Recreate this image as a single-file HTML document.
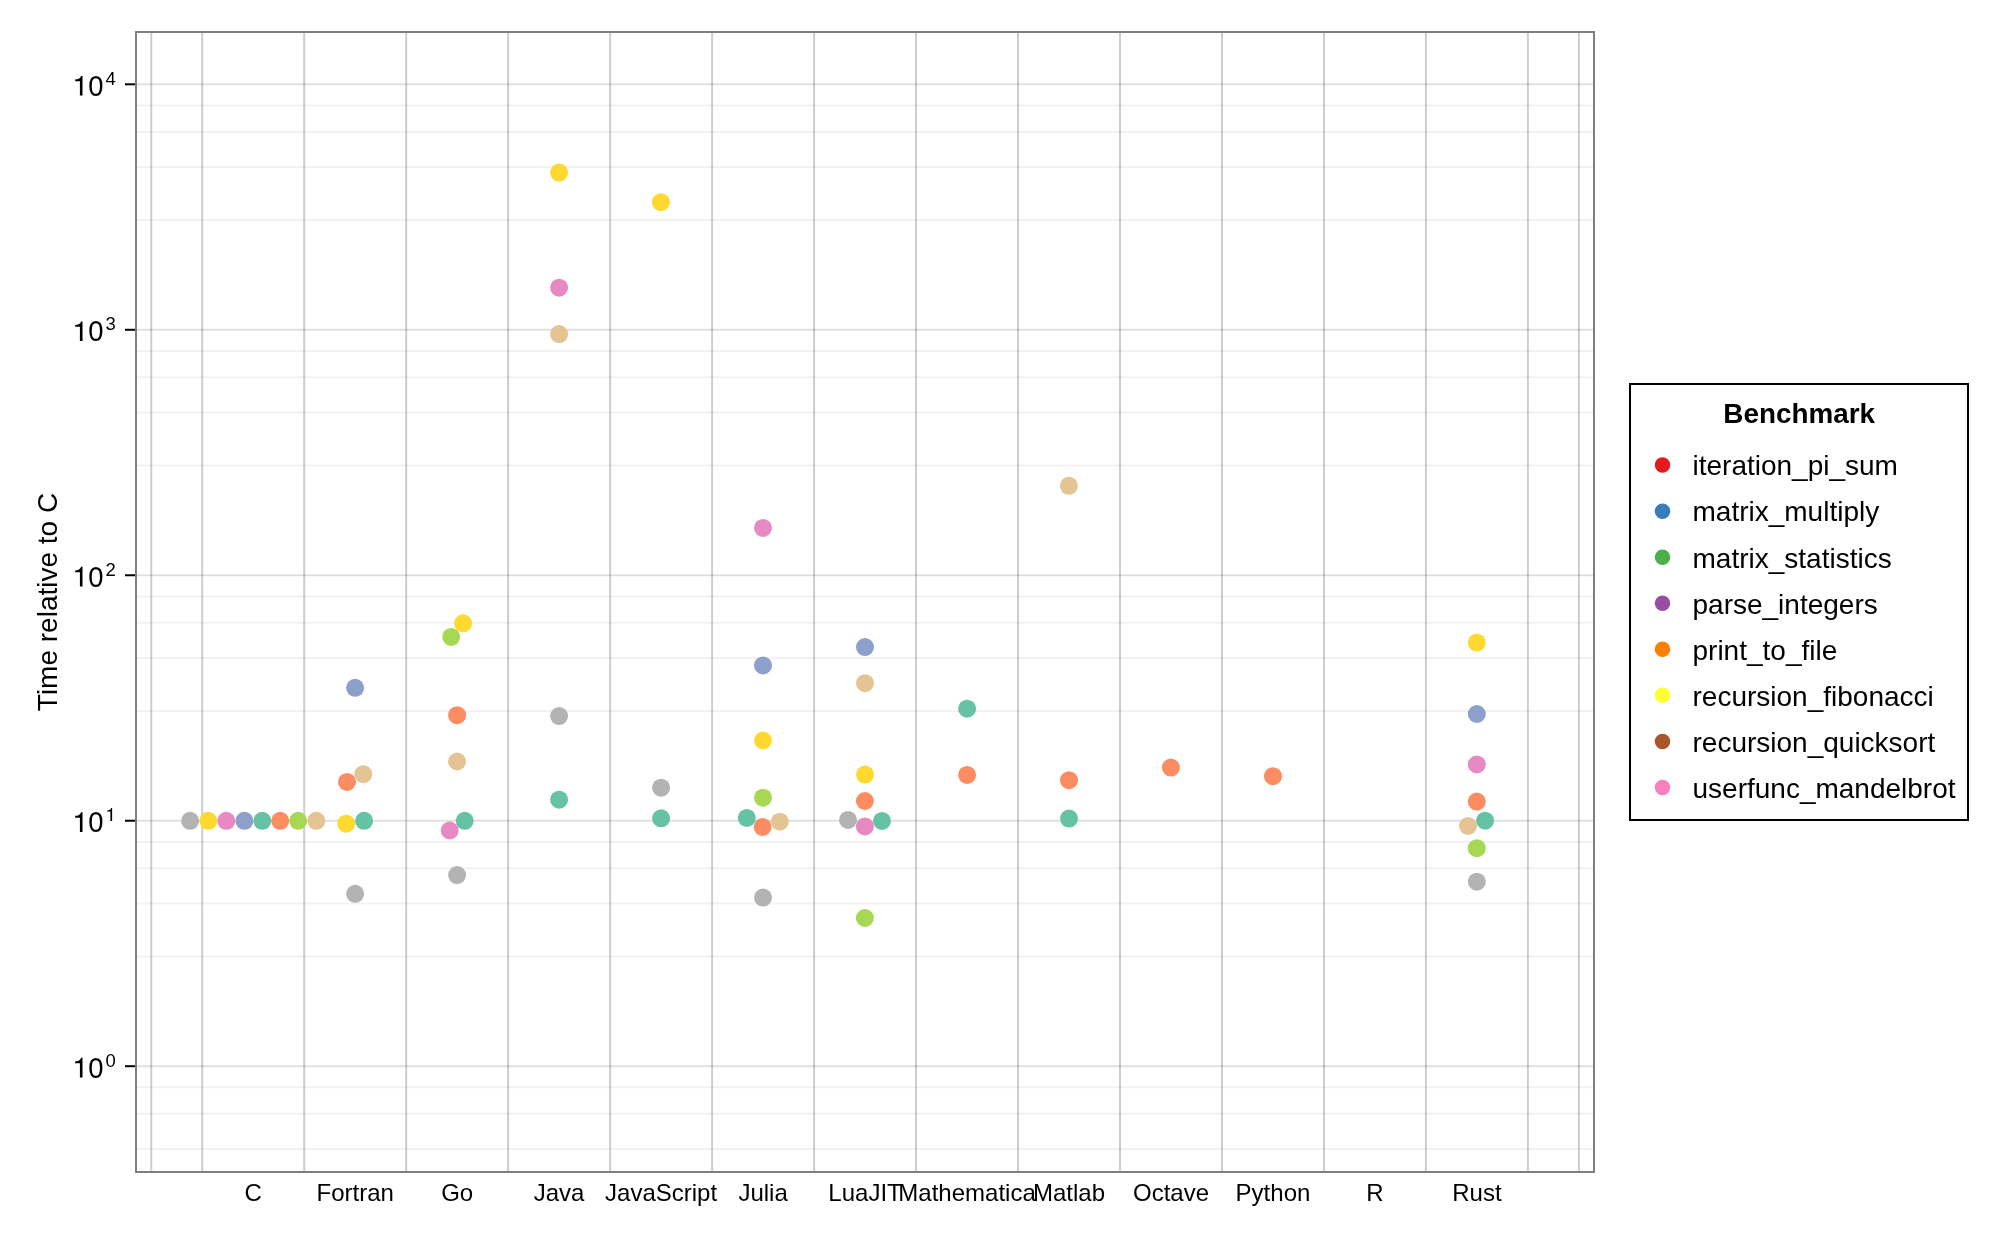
<!DOCTYPE html><html><head><meta charset="utf-8"><style>html,body{margin:0;padding:0;background:#fff;}body{width:2000px;height:1236px;overflow:hidden;}svg{display:block;will-change:transform;font-family:"Liberation Sans",sans-serif;}</style></head><body>
<svg width="2000" height="1236" viewBox="0 0 2000 1236">
<rect x="0" y="0" width="2000" height="1236" fill="#fff"/>
<line x1="136" x2="1594" y1="1148.98" y2="1148.98" stroke="rgba(0,0,0,0.05)" stroke-width="2"/>
<line x1="136" x2="1594" y1="1113.78" y2="1113.78" stroke="rgba(0,0,0,0.05)" stroke-width="2"/>
<line x1="136" x2="1594" y1="1087.36" y2="1087.36" stroke="rgba(0,0,0,0.05)" stroke-width="2"/>
<line x1="136" x2="1594" y1="956.43" y2="956.43" stroke="rgba(0,0,0,0.05)" stroke-width="2"/>
<line x1="136" x2="1594" y1="903.51" y2="903.51" stroke="rgba(0,0,0,0.05)" stroke-width="2"/>
<line x1="136" x2="1594" y1="868.30" y2="868.30" stroke="rgba(0,0,0,0.05)" stroke-width="2"/>
<line x1="136" x2="1594" y1="841.88" y2="841.88" stroke="rgba(0,0,0,0.05)" stroke-width="2"/>
<line x1="136" x2="1594" y1="710.96" y2="710.96" stroke="rgba(0,0,0,0.05)" stroke-width="2"/>
<line x1="136" x2="1594" y1="658.03" y2="658.03" stroke="rgba(0,0,0,0.05)" stroke-width="2"/>
<line x1="136" x2="1594" y1="622.83" y2="622.83" stroke="rgba(0,0,0,0.05)" stroke-width="2"/>
<line x1="136" x2="1594" y1="596.41" y2="596.41" stroke="rgba(0,0,0,0.05)" stroke-width="2"/>
<line x1="136" x2="1594" y1="465.48" y2="465.48" stroke="rgba(0,0,0,0.05)" stroke-width="2"/>
<line x1="136" x2="1594" y1="412.56" y2="412.56" stroke="rgba(0,0,0,0.05)" stroke-width="2"/>
<line x1="136" x2="1594" y1="377.35" y2="377.35" stroke="rgba(0,0,0,0.05)" stroke-width="2"/>
<line x1="136" x2="1594" y1="350.93" y2="350.93" stroke="rgba(0,0,0,0.05)" stroke-width="2"/>
<line x1="136" x2="1594" y1="220.01" y2="220.01" stroke="rgba(0,0,0,0.05)" stroke-width="2"/>
<line x1="136" x2="1594" y1="167.08" y2="167.08" stroke="rgba(0,0,0,0.05)" stroke-width="2"/>
<line x1="136" x2="1594" y1="131.88" y2="131.88" stroke="rgba(0,0,0,0.05)" stroke-width="2"/>
<line x1="136" x2="1594" y1="105.46" y2="105.46" stroke="rgba(0,0,0,0.05)" stroke-width="2"/>
<line x1="136" x2="1594" y1="1066.20" y2="1066.20" stroke="rgba(0,0,0,0.12)" stroke-width="2"/>
<line x1="136" x2="1594" y1="820.73" y2="820.73" stroke="rgba(0,0,0,0.12)" stroke-width="2"/>
<line x1="136" x2="1594" y1="575.25" y2="575.25" stroke="rgba(0,0,0,0.12)" stroke-width="2"/>
<line x1="136" x2="1594" y1="329.78" y2="329.78" stroke="rgba(0,0,0,0.12)" stroke-width="2"/>
<line x1="136" x2="1594" y1="84.30" y2="84.30" stroke="rgba(0,0,0,0.12)" stroke-width="2"/>
<line x1="151.22" x2="151.22" y1="32" y2="1172" stroke="rgba(0,0,0,0.195)" stroke-width="2"/>
<line x1="202.21" x2="202.21" y1="32" y2="1172" stroke="rgba(0,0,0,0.195)" stroke-width="2"/>
<line x1="304.19" x2="304.19" y1="32" y2="1172" stroke="rgba(0,0,0,0.195)" stroke-width="2"/>
<line x1="406.17" x2="406.17" y1="32" y2="1172" stroke="rgba(0,0,0,0.195)" stroke-width="2"/>
<line x1="508.14" x2="508.14" y1="32" y2="1172" stroke="rgba(0,0,0,0.195)" stroke-width="2"/>
<line x1="610.12" x2="610.12" y1="32" y2="1172" stroke="rgba(0,0,0,0.195)" stroke-width="2"/>
<line x1="712.10" x2="712.10" y1="32" y2="1172" stroke="rgba(0,0,0,0.195)" stroke-width="2"/>
<line x1="814.07" x2="814.07" y1="32" y2="1172" stroke="rgba(0,0,0,0.195)" stroke-width="2"/>
<line x1="916.05" x2="916.05" y1="32" y2="1172" stroke="rgba(0,0,0,0.195)" stroke-width="2"/>
<line x1="1018.03" x2="1018.03" y1="32" y2="1172" stroke="rgba(0,0,0,0.195)" stroke-width="2"/>
<line x1="1120.00" x2="1120.00" y1="32" y2="1172" stroke="rgba(0,0,0,0.195)" stroke-width="2"/>
<line x1="1221.98" x2="1221.98" y1="32" y2="1172" stroke="rgba(0,0,0,0.195)" stroke-width="2"/>
<line x1="1323.96" x2="1323.96" y1="32" y2="1172" stroke="rgba(0,0,0,0.195)" stroke-width="2"/>
<line x1="1425.94" x2="1425.94" y1="32" y2="1172" stroke="rgba(0,0,0,0.195)" stroke-width="2"/>
<line x1="1527.91" x2="1527.91" y1="32" y2="1172" stroke="rgba(0,0,0,0.195)" stroke-width="2"/>
<line x1="1578.90" x2="1578.90" y1="32" y2="1172" stroke="rgba(0,0,0,0.195)" stroke-width="2"/>
<circle cx="190.1" cy="820.8" r="9" fill="#B3B3B3"/>
<circle cx="208.3" cy="820.8" r="9" fill="#FFD92F"/>
<circle cx="226.3" cy="820.8" r="9" fill="#E78AC3"/>
<circle cx="244.4" cy="820.8" r="9" fill="#8DA0CB"/>
<circle cx="262.3" cy="820.8" r="9" fill="#66C2A5"/>
<circle cx="280.2" cy="820.8" r="9" fill="#FC8D62"/>
<circle cx="298.2" cy="820.8" r="9" fill="#A6D854"/>
<circle cx="316.3" cy="820.8" r="9" fill="#E5C494"/>
<circle cx="355.1" cy="687.8" r="9" fill="#8DA0CB"/>
<circle cx="347.0" cy="781.9" r="9" fill="#FC8D62"/>
<circle cx="363.3" cy="774.2" r="9" fill="#E5C494"/>
<circle cx="346.2" cy="823.7" r="9" fill="#FFD92F"/>
<circle cx="364.1" cy="820.8" r="9" fill="#66C2A5"/>
<circle cx="355.1" cy="893.8" r="9" fill="#B3B3B3"/>
<circle cx="463.1" cy="623.3" r="9" fill="#FFD92F"/>
<circle cx="451.2" cy="636.9" r="9" fill="#A6D854"/>
<circle cx="457.1" cy="715.2" r="9" fill="#FC8D62"/>
<circle cx="457.1" cy="761.5" r="9" fill="#E5C494"/>
<circle cx="464.7" cy="820.8" r="9" fill="#66C2A5"/>
<circle cx="449.7" cy="830.5" r="9" fill="#E78AC3"/>
<circle cx="457.1" cy="875.1" r="9" fill="#B3B3B3"/>
<circle cx="559.1" cy="172.6" r="9" fill="#FFD92F"/>
<circle cx="559.1" cy="287.7" r="9" fill="#E78AC3"/>
<circle cx="559.1" cy="334.1" r="9" fill="#E5C494"/>
<circle cx="559.1" cy="716.1" r="9" fill="#B3B3B3"/>
<circle cx="559.1" cy="799.7" r="9" fill="#66C2A5"/>
<circle cx="660.9" cy="202.2" r="9" fill="#FFD92F"/>
<circle cx="661.1" cy="787.7" r="9" fill="#B3B3B3"/>
<circle cx="661.1" cy="818.3" r="9" fill="#66C2A5"/>
<circle cx="763.0" cy="527.9" r="9" fill="#E78AC3"/>
<circle cx="763.0" cy="665.4" r="9" fill="#8DA0CB"/>
<circle cx="763.0" cy="740.5" r="9" fill="#FFD92F"/>
<circle cx="763.0" cy="797.7" r="9" fill="#A6D854"/>
<circle cx="746.8" cy="817.9" r="9" fill="#66C2A5"/>
<circle cx="779.8" cy="821.7" r="9" fill="#E5C494"/>
<circle cx="762.6" cy="826.9" r="9" fill="#FC8D62"/>
<circle cx="763.0" cy="897.6" r="9" fill="#B3B3B3"/>
<circle cx="865.0" cy="647.1" r="9" fill="#8DA0CB"/>
<circle cx="865.0" cy="683.2" r="9" fill="#E5C494"/>
<circle cx="865.0" cy="774.6" r="9" fill="#FFD92F"/>
<circle cx="864.9" cy="801.0" r="9" fill="#FC8D62"/>
<circle cx="848.0" cy="819.9" r="9" fill="#B3B3B3"/>
<circle cx="882.0" cy="820.9" r="9" fill="#66C2A5"/>
<circle cx="864.9" cy="826.4" r="9" fill="#E78AC3"/>
<circle cx="864.9" cy="918.0" r="9" fill="#A6D854"/>
<circle cx="967.1" cy="708.7" r="9" fill="#66C2A5"/>
<circle cx="967.1" cy="774.9" r="9" fill="#FC8D62"/>
<circle cx="1068.9" cy="485.8" r="9" fill="#E5C494"/>
<circle cx="1069.0" cy="780.2" r="9" fill="#FC8D62"/>
<circle cx="1069.0" cy="818.6" r="9" fill="#66C2A5"/>
<circle cx="1170.9" cy="767.6" r="9" fill="#FC8D62"/>
<circle cx="1273.0" cy="776.2" r="9" fill="#FC8D62"/>
<circle cx="1476.8" cy="642.6" r="9" fill="#FFD92F"/>
<circle cx="1476.8" cy="714.0" r="9" fill="#8DA0CB"/>
<circle cx="1476.8" cy="764.4" r="9" fill="#E78AC3"/>
<circle cx="1476.8" cy="801.6" r="9" fill="#FC8D62"/>
<circle cx="1485.1" cy="820.7" r="9" fill="#66C2A5"/>
<circle cx="1468.0" cy="826.0" r="9" fill="#E5C494"/>
<circle cx="1476.8" cy="848.2" r="9" fill="#A6D854"/>
<circle cx="1476.8" cy="881.7" r="9" fill="#B3B3B3"/>
<rect x="136" y="32" width="1458" height="1140" fill="none" stroke="#7f7f7f" stroke-width="2"/>
<line x1="125" x2="135" y1="1066.20" y2="1066.20" stroke="#000" stroke-width="2"/>
<path d="M 355 0 L 355 703 L 300 703 C 287 652 262 624 215 602 C 180 587 140 580 94 577 L 94 512 L 262 512 L 262 0 Z" transform="translate(72.57,1077.50) scale(0.02800,-0.02800)" fill="#000"/>
<text transform="translate(88.14,1077.50) scale(0.98,1.03)" x="0" y="0" font-size="28" fill="#000">0</text>
<text x="105.55" y="1066.50" font-size="18.48" fill="#000">0</text>
<line x1="125" x2="135" y1="820.73" y2="820.73" stroke="#000" stroke-width="2"/>
<path d="M 355 0 L 355 703 L 300 703 C 287 652 262 624 215 602 C 180 587 140 580 94 577 L 94 512 L 262 512 L 262 0 Z" transform="translate(72.57,832.02) scale(0.02800,-0.02800)" fill="#000"/>
<text transform="translate(88.14,832.02) scale(0.98,1.03)" x="0" y="0" font-size="28" fill="#000">0</text>
<path d="M 355 0 L 355 703 L 300 703 C 287 652 262 624 215 602 C 180 587 140 580 94 577 L 94 512 L 262 512 L 262 0 Z" transform="translate(105.55,821.02) scale(0.01848,-0.01848)" fill="#000"/>
<line x1="125" x2="135" y1="575.25" y2="575.25" stroke="#000" stroke-width="2"/>
<path d="M 355 0 L 355 703 L 300 703 C 287 652 262 624 215 602 C 180 587 140 580 94 577 L 94 512 L 262 512 L 262 0 Z" transform="translate(72.57,586.55) scale(0.02800,-0.02800)" fill="#000"/>
<text transform="translate(88.14,586.55) scale(0.98,1.03)" x="0" y="0" font-size="28" fill="#000">0</text>
<text x="105.55" y="575.55" font-size="18.48" fill="#000">2</text>
<line x1="125" x2="135" y1="329.78" y2="329.78" stroke="#000" stroke-width="2"/>
<path d="M 355 0 L 355 703 L 300 703 C 287 652 262 624 215 602 C 180 587 140 580 94 577 L 94 512 L 262 512 L 262 0 Z" transform="translate(72.57,341.08) scale(0.02800,-0.02800)" fill="#000"/>
<text transform="translate(88.14,341.08) scale(0.98,1.03)" x="0" y="0" font-size="28" fill="#000">0</text>
<text x="105.55" y="330.08" font-size="18.48" fill="#000">3</text>
<line x1="125" x2="135" y1="84.30" y2="84.30" stroke="#000" stroke-width="2"/>
<path d="M 355 0 L 355 703 L 300 703 C 287 652 262 624 215 602 C 180 587 140 580 94 577 L 94 512 L 262 512 L 262 0 Z" transform="translate(72.57,95.60) scale(0.02800,-0.02800)" fill="#000"/>
<text transform="translate(88.14,95.60) scale(0.98,1.03)" x="0" y="0" font-size="28" fill="#000">0</text>
<text x="105.55" y="84.60" font-size="18.48" fill="#000">4</text>
<text x="253.20" y="1201" font-size="24" text-anchor="middle" fill="#000">C</text>
<text x="355.18" y="1201" font-size="24" text-anchor="middle" fill="#000">Fortran</text>
<text x="457.15" y="1201" font-size="24" text-anchor="middle" fill="#000">Go</text>
<text x="559.13" y="1201" font-size="24" text-anchor="middle" fill="#000">Java</text>
<text x="661.11" y="1201" font-size="24" text-anchor="middle" fill="#000">JavaScript</text>
<text x="763.09" y="1201" font-size="24" text-anchor="middle" fill="#000">Julia</text>
<text x="865.06" y="1201" font-size="24" text-anchor="middle" fill="#000">LuaJIT</text>
<text x="967.04" y="1201" font-size="24" text-anchor="middle" fill="#000">Mathematica</text>
<text x="1069.02" y="1201" font-size="24" text-anchor="middle" fill="#000">Matlab</text>
<text x="1170.99" y="1201" font-size="24" text-anchor="middle" fill="#000">Octave</text>
<text x="1272.97" y="1201" font-size="24" text-anchor="middle" fill="#000">Python</text>
<text x="1374.95" y="1201" font-size="24" text-anchor="middle" fill="#000">R</text>
<text x="1476.92" y="1201" font-size="24" text-anchor="middle" fill="#000">Rust</text>
<text transform="translate(56.6,602.0) rotate(-90)" x="0" y="0" font-size="28" text-anchor="middle" fill="#000">Time relative to C</text>
<rect x="1630" y="384" width="338" height="436" fill="#fff" stroke="#000" stroke-width="2"/>
<text transform="translate(1799.2,423.1) scale(0.995,1.0)" x="0" y="0" font-size="28" font-weight="bold" text-anchor="middle" fill="#000">Benchmark</text>
<circle cx="1662.5" cy="465.10" r="7.75" fill="#E41A1C"/>
<text x="1692.5" y="475.40" font-size="28" fill="#000">iteration_pi_sum</text>
<circle cx="1662.5" cy="511.15" r="7.75" fill="#377EB8"/>
<text x="1692.5" y="521.45" font-size="28" fill="#000">matrix_multiply</text>
<circle cx="1662.5" cy="557.20" r="7.75" fill="#4DAF4A"/>
<text x="1692.5" y="567.50" font-size="28" fill="#000">matrix_statistics</text>
<circle cx="1662.5" cy="603.25" r="7.75" fill="#984EA3"/>
<text x="1692.5" y="613.55" font-size="28" fill="#000">parse_integers</text>
<circle cx="1662.5" cy="649.30" r="7.75" fill="#FF7F00"/>
<text x="1692.5" y="659.60" font-size="28" fill="#000">print_to_file</text>
<circle cx="1662.5" cy="695.35" r="7.75" fill="#FFFF33"/>
<text x="1692.5" y="705.65" font-size="28" fill="#000">recursion_fibonacci</text>
<circle cx="1662.5" cy="741.40" r="7.75" fill="#A65628"/>
<text x="1692.5" y="751.70" font-size="28" fill="#000">recursion_quicksort</text>
<circle cx="1662.5" cy="787.45" r="7.75" fill="#F781BF"/>
<text x="1692.5" y="797.75" font-size="28" fill="#000">userfunc_mandelbrot</text>
</svg></body></html>
